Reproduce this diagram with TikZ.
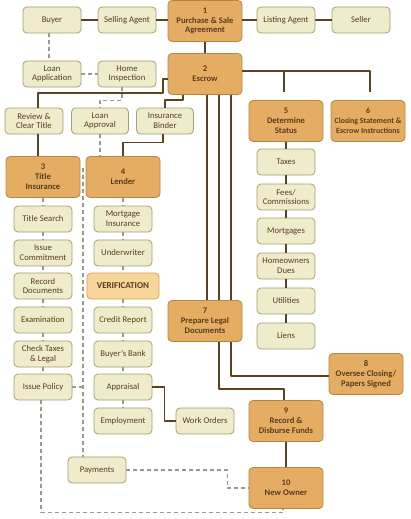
\documentclass[tikz,border=0pt]{standalone}
\usepackage{fontspec}
\setmainfont{Carlito}
\definecolor{orangefill}{HTML}{E4AD63}
\definecolor{orangeline}{HTML}{B98642}
\definecolor{creamfill}{HTML}{EEECCB}
\definecolor{creamline}{HTML}{A89E74}
\definecolor{verfill}{HTML}{F8D59B}
\definecolor{verline}{HTML}{E0A24E}
\definecolor{linebrown}{HTML}{5C4220}
\definecolor{dashgray}{HTML}{9C988A}
\definecolor{textbrown}{HTML}{5A3C1C}
\tikzset{
  mainbox/.style={draw=orangeline,fill=orangefill,line width=.8pt,rounded corners=4pt,
    minimum width=74pt,minimum height=41pt,align=center,inner sep=1pt,text=textbrown,
    font=\bfseries\fontsize{8.6}{9.8}\selectfont},
  subbox/.style={draw=creamline,fill=creamfill,line width=.8pt,rounded corners=4pt,
    minimum width=58pt,minimum height=26pt,align=center,inner sep=1pt,text=textbrown,
    font=\fontsize{8.7}{9.8}\selectfont},
  verbox/.style={subbox,draw=verline,fill=verfill,minimum width=72pt,
    font=\bfseries\fontsize{9}{10}\selectfont},
  solidlink/.style={draw=linebrown,line width=1.8pt},
  dashlink/.style={draw=dashgray,line width=1.1pt,dash pattern=on 4pt off 3pt},
}
\begin{document}
\begin{tikzpicture}[x=1pt,y=-1pt,line join=round]
  \useasboundingbox[fill=white] (0,0) rectangle (410,519);
  % top rows
  \node[subbox] (buyer) at (52,20) {Buyer};
  \node[subbox] (sellag) at (127,20) {Selling Agent};
  \node[mainbox] (purchase) at (205,21) {1\\Purchase \& Sale\\Agreement};
  \node[subbox] (listag) at (286,20) {Listing Agent};
  \node[subbox] (seller) at (361,20) {Seller};
  \node[subbox] (loanapp) at (52,74) {Loan\\Application};
  \node[subbox] (homeinsp) at (127,74) {Home\\Inspection};
  \node[mainbox] (escrow) at (205,74) {2\\Escrow};
  \node[subbox] (review) at (34,121) {Review \&\\Clear Title};
  \node[subbox,minimum width=57pt] (loanappr) at (100,121) {Loan\\Approval};
  \node[subbox,minimum width=57pt] (binder) at (165,121) {Insurance\\Binder};
  \node[mainbox] (status) at (286,121) {5\\Determine\\Status};
  \node[mainbox,font=\bfseries\fontsize{7.9}{9.8}\selectfont] (closing) at (368,121)
    {6\\Closing Statement \&\\Escrow Instructions};
  % title column
  \node[mainbox] (title) at (43,177) {3\\Title\\Insurance};
  \node[subbox] (titlesearch) at (43,219) {Title Search};
  \node[subbox] (commit) at (43,253) {Issue\\Commitment};
  \node[subbox] (recorddoc) at (43,286) {Record\\Documents};
  \node[subbox] (exam) at (43,320) {Examination};
  \node[subbox] (checktax) at (43,354) {Check Taxes\\\& Legal};
  \node[subbox] (policy) at (43,387) {Issue Policy};
  % lender column
  \node[mainbox] (lender) at (123,177) {4\\Lender};
  \node[subbox] (mortins) at (123,219) {Mortgage\\Insurance};
  \node[subbox] (underwr) at (123,253) {Underwriter};
  \node[verbox] (verif) at (123,286) {VERIFICATION};
  \node[subbox] (credit) at (123,320) {Credit Report};
  \node[subbox] (bank) at (123,354) {Buyer's Bank};
  \node[subbox] (appraisal) at (123,387) {Appraisal};
  \node[subbox] (employ) at (123,421) {Employment};
  \node[subbox] (workord) at (205,421) {Work Orders};
  \node[subbox] (payments) at (97,470) {Payments};
  % status column
  \node[subbox] (taxes) at (286,162) {Taxes};
  \node[subbox] (fees) at (286,197) {Fees/\\Commissions};
  \node[subbox] (mortg) at (286,231) {Mortgages};
  \node[subbox] (hoa) at (286,266) {Homeowners\\Dues};
  \node[subbox] (util) at (286,301) {Utilities};
  \node[subbox] (liens) at (286,336) {Liens};
  % closing steps
  \node[mainbox] (legal) at (205,321) {7\\Prepare Legal\\Documents};
  \node[mainbox] (oversee) at (366,374) {8\\Oversee Closing/\\Papers Signed};
  \node[mainbox] (record) at (286,421) {9\\Record \&\\Disburse Funds};
  \node[mainbox] (newowner) at (286,488) {10\\New Owner};
  \coordinate (rt) at (38,0);
  \coordinate (vd) at (83,168);

  \draw[solidlink] (buyer) -- (sellag);
  \draw[solidlink] (sellag.east) -- (sellag.east -| purchase.west);
  \draw[solidlink] (listag.west -| purchase.east) -- (listag.west);
  \draw[solidlink] (listag) -- (seller);
  \draw[solidlink] (purchase) -- (escrow);
  \draw[solidlink] ([yshift=-5pt]escrow.west) -- ++(-5,0) -- ++(0,14) -| (rt |- review.north);
  \draw[solidlink] (rt |- review.south) -- (rt |- title.north);
  \draw[solidlink] ([xshift=-22pt]escrow.south) -- ++(0,5) -| (binder.north);
  \draw[solidlink] ([xshift=-2pt]binder.south) -- ++(0,8) -| (lender.north);
  \draw[solidlink,shorten >=8pt] ([yshift=3pt]escrow.east) -| ([xshift=-2pt]status.north);
  \draw[solidlink,shorten >=8pt] ([yshift=3pt]escrow.east) -| ([xshift=2pt]closing.north);
  \foreach \a/\b in {status/taxes,taxes/fees,fees/mortg,mortg/hoa,hoa/util,util/liens}
    \draw[solidlink] (\a) -- (\b);
  \foreach \s in {2,14,26}
    \draw[solidlink] ([xshift=\s pt]escrow.south) -- ([xshift=\s pt]legal.north);
  \draw[solidlink] ([xshift=14pt]legal.south) -- ++(0,47) -| ([xshift=-2pt]record.north);
  \draw[solidlink] ([xshift=26pt]legal.south) |- ([yshift=-2pt]oversee.west);
  \draw[solidlink] (record) -- (newowner);
  \draw[solidlink] (appraisal.east) -- ++(12,0) |- (workord.west);

  \draw[dashlink] ([xshift=-3pt]buyer.south) -- ([xshift=-3pt]loanapp.north);
  \draw[dashlink] (loanapp) -- (homeinsp);
  \draw[dashlink] ([xshift=-5pt]homeinsp.south) -- ++(0,13) -| (loanappr.north);
  \draw[dashlink] (loanappr.south) -- (loanappr.south |- lender.north);
  \foreach \a/\b in {title/titlesearch,titlesearch/commit,commit/recorddoc,
      recorddoc/exam,exam/checktax,checktax/policy,lender/mortins,mortins/underwr,
      underwr/verif,verif/credit,credit/bank,bank/appraisal,appraisal/employ}
    \draw[dashlink] (\a) -- (\b);
  \draw[dashlink] (vd) -- (vd |- payments.north);
  \draw[dashlink] (policy.east) -- (policy.east -| vd);
  \draw[dashlink] ([xshift=-2pt]policy.south) -- ++(0,112) -| ([xshift=-3pt]newowner.south);
  \draw[dashlink] (payments.east) -- ++(101,0) |- (newowner.west);
\end{tikzpicture}
\end{document}
